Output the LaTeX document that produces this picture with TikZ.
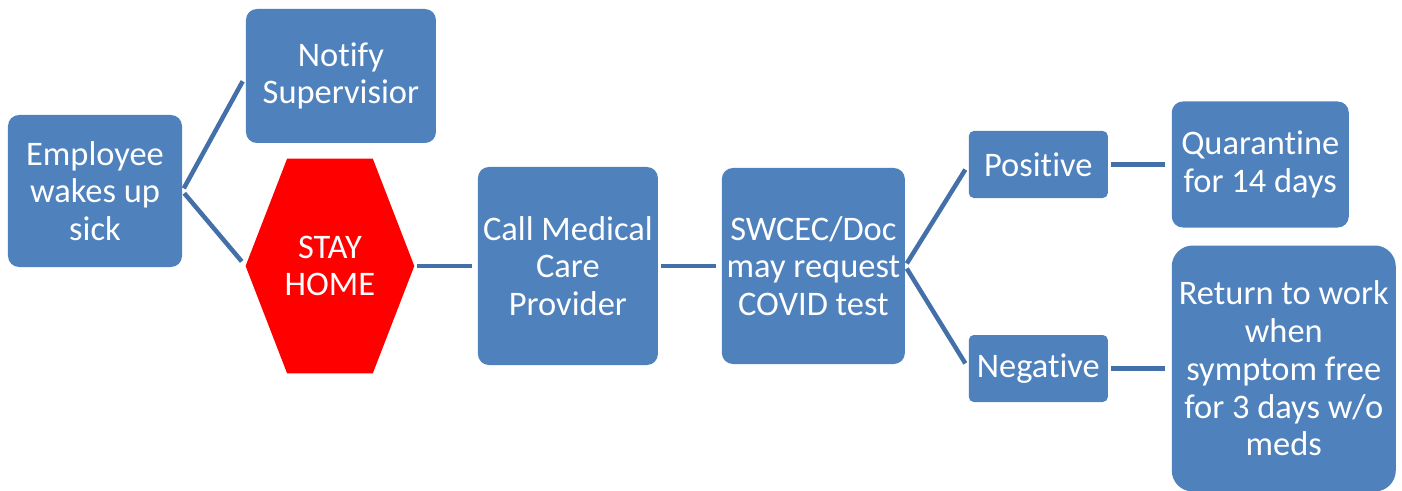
\documentclass[tikz,border=0pt]{standalone}
\usepackage{fontspec}
\setmainfont{Carlito}[RawFeature={-liga;-clig;-calt;-dlig}]
\usepackage{xcolor}
\usepackage{tikz}
\usetikzlibrary{positioning,backgrounds}

\definecolor{boxblue}{HTML}{4F81BD}
\definecolor{linkblue}{HTML}{4470AA}
\definecolor{stopred}{HTML}{FF0000}

\begin{document}
\begin{tikzpicture}[node distance=1.265cm,
  every node/.style={font=\fontsize{19.6}{21.5}\selectfont, text=white, align=center, inner sep=2pt},
  box/.style={rectangle, fill=boxblue, rounded corners=0.22cm},
  link/.style={line width=0.09cm, color=linkblue, shorten <=0.06cm, shorten >=0.12cm}]
\useasboundingbox (0,0) rectangle (28.04,-9.82);
\node[box, minimum width=3.48cm, minimum height=3.04cm] (emp) at (1.9,-3.82) {Employee\\wakes up\\sick};
\node[box, minimum width=3.8cm, minimum height=2.68cm, right=of emp, yshift=2.3cm] (notify) {Notify\\Supervisior};
\node[minimum width=3.36cm, minimum height=4.28cm, right=of emp, yshift=-1.5cm] (stay) {STAY\\HOME};
\node[box, minimum width=3.6cm, minimum height=3.96cm, right=of stay] (call) {Call Medical\\Care\\Provider};
\node[box, minimum width=3.66cm, minimum height=3.92cm, right=of call] (swcec) {SWCEC/Doc\\may request\\COVID test};
\node[box, rounded corners=0.1cm, minimum width=2.78cm, minimum height=1.34cm, right=of swcec, yshift=2.03cm] (pos) {Positive};
\node[box, rounded corners=0.1cm, minimum width=2.78cm, minimum height=1.34cm, right=of swcec, yshift=-2.05cm] (neg) {Negative};
\node[box, minimum width=3.54cm, minimum height=2.52cm, right=of pos] (quar) {Quarantine\\for 14 days};
\node[box, rounded corners=0.42cm, minimum width=4.48cm, minimum height=4.92cm, right=of neg] (ret) {Return to work\\when\\symptom free\\for 3 days w/o\\meds};
% stop sign behind the text
\begin{scope}[on background layer]
\fill[stopred] (stay.west) -- ([xshift=0.83cm]stay.north west) -- ([xshift=-0.83cm]stay.north east)
  -- (stay.east) -- ([xshift=-0.83cm]stay.south east) -- ([xshift=0.83cm]stay.south west) -- cycle;
\end{scope}
\draw[link] (emp.east) -- (notify.west);
\draw[link] (emp.east) -- (stay.west);
\draw[link] (stay.east) -- (call.west);
\draw[link] (call.east) -- (swcec.west);
\draw[link] (swcec.east) -- (pos.west);
\draw[link] (swcec.east) -- (neg.west);
\draw[link] (pos.east) -- (quar.west);
\draw[link] (neg.east) -- (ret.west);
\end{tikzpicture}
\end{document}
